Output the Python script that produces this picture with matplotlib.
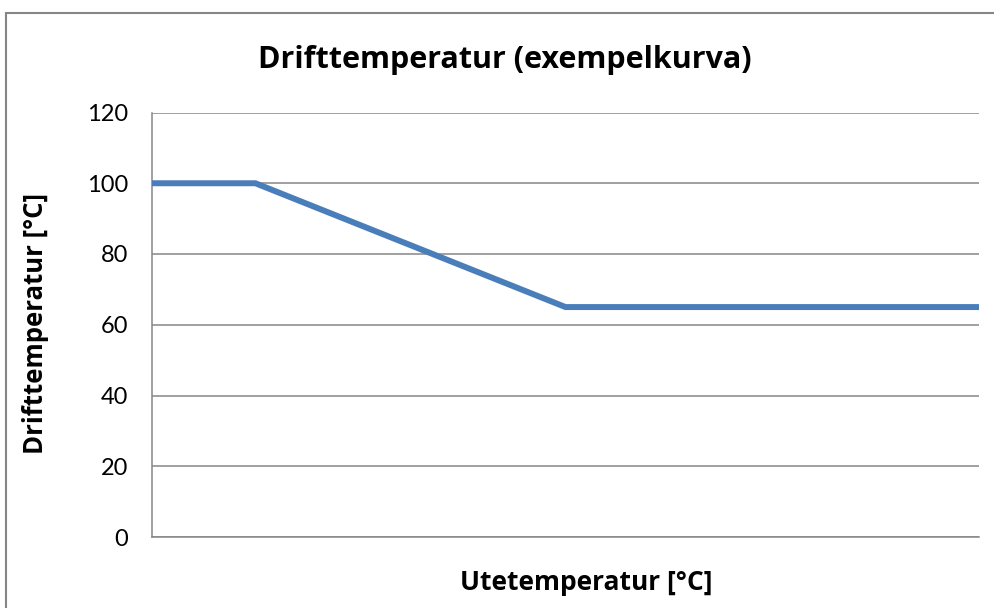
import matplotlib.pyplot as plt
from matplotlib.patches import Rectangle

# data (x axis has no tick labels in the original, positions)
utetemp = [-30, -25, -10, 10]
drifttemp = [100, 100, 65, 65]
yticks = [0, 20, 40, 60, 80, 100, 120]

plt.rcParams['font.family'] = ['Lato', 'DejaVu Sans']
bold_font = ['Open Sans', 'DejaVu Sans']

W, H = 995, 608
fig = plt.figure(figsize=(W / 100, H / 100), dpi=100)
ax = fig.add_axes([152 / W, 1 - 537 / H, (979 - 152) / W, (537 - 112.5) / H])

ax.plot(utetemp, drifttemp, color='#4A7EBB', lw=4.3, solid_capstyle='butt',
        solid_joinstyle='miter', clip_on=False, zorder=3)

ax.set_xlim(utetemp[0], utetemp[-1])
ax.set_ylim(0, 120)
ax.set_yticks(yticks)
ax.set_xticks([])
ax.grid(axis='y', color='#868686', lw=1.1)
ax.tick_params(axis='y', length=0, pad=17, labelsize=17)
for s in ['top', 'right']:
    ax.spines[s].set_visible(False)
for s in ['left', 'bottom']:
    ax.spines[s].set_color('#868686')
    ax.spines[s].set_linewidth(1.1)

fig.text(505 / W, 1 - 60 / H, 'Drifttemperatur (exempelkurva)', ha='center',
         va='center', fontsize=22, fontweight='bold', family=bold_font)
fig.text(586 / W, 1 - 582 / H, 'Utetemperatur [°C]', ha='center',
         va='center', fontsize=19, fontweight='bold', family=bold_font)
fig.text(36 / W, 1 - 324 / H, 'Drifttemperatur [°C]', ha='center',
         va='center', rotation=90, fontsize=18.5, fontweight='bold',
         family=bold_font)

# chart border (right and bottom run off the image)
fig.patches.append(Rectangle((6 / W, -0.01), 1.0, 1 - 13 / H + 0.01,
                             transform=fig.transFigure, fill=False,
                             edgecolor='#868686', lw=1.5))

fig.savefig('out.png', dpi=100)
